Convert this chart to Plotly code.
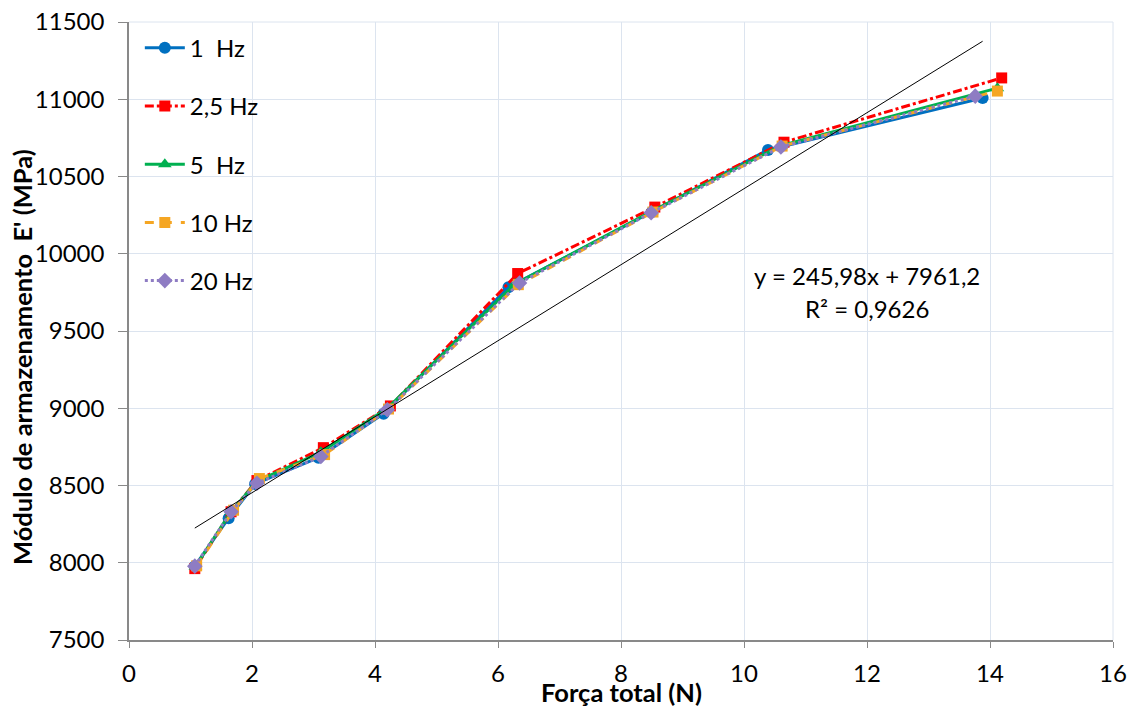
import numpy as np
import plotly.graph_objects as go

# Storage modulus E' (MPa) versus total force (N) at each test frequency
x_1hz = [1.07, 1.62, 2.05, 3.08, 4.14, 6.17, 8.50, 10.39, 13.88]
y_1hz = [7978, 8288, 8510, 8680, 8965, 9783, 10270, 10672, 11008]

x_2_5hz = [1.07, 1.66, 2.08, 3.16, 4.25, 6.32, 8.55, 10.65, 14.19]
y_2_5hz = [7962, 8330, 8532, 8745, 9015, 9872, 10302, 10722, 11138]

x_5hz = [1.08, 1.66, 2.08, 3.12, 4.20, 6.28, 8.50, 10.60, 14.12]
y_5hz = [7975, 8330, 8527, 8715, 9000, 9805, 10275, 10700, 11072]

x_10hz = [1.10, 1.70, 2.12, 3.18, 4.22, 6.33, 8.52, 10.62, 14.12]
y_10hz = [7980, 8340, 8545, 8700, 8995, 9800, 10270, 10697, 11053]

x_20hz = [1.07, 1.66, 2.08, 3.12, 4.20, 6.35, 8.49, 10.60, 13.76]
y_20hz = [7978, 8330, 8515, 8688, 8990, 9811, 10265, 10691, 11020]

# Linear trend line y = a*x + b, fitted over the 1 Hz force range
trend_slope = 245.98
trend_intercept = 7961.2
trend_r2 = 0.9626
trend_x = [1.07, 13.88]

x_ticks = [0, 2, 4, 6, 8, 10, 12, 14, 16]
y_ticks = [7500, 8000, 8500, 9000, 9500, 10000, 10500, 11000, 11500]

FONT = "Lato, Carlito, 'Liberation Sans', sans-serif"
FS = 24          # tick labels, legend, equation
FS_TITLE = 25.5  # axis titles
GRID = "#dce4ef"
AXIS = "#898989"

series = [
    ("1\u00a0 Hz", x_1hz, y_1hz, "#0070c0", "solid", "circle", 12),
    ("2,5 Hz", x_2_5hz, y_2_5hz, "#ff0000", "dashdot", "square", 11),
    ("5\u00a0 Hz", x_5hz, y_5hz, "#00b050", "solid", "triangle-up", 12),
    ("10 Hz", x_10hz, y_10hz, "#f5a623", "dash", "square", 11),
    ("20 Hz", x_20hz, y_20hz, "#8e7cc3", "dot", "diamond", 12),
]

fig = go.Figure()
for i, (name, xs, ys, color, dash, symbol, size) in enumerate(series):
    fig.add_trace(go.Scatter(
        x=xs, y=ys, name=name, mode="lines+markers",
        line=dict(color=color, width=3, dash=dash),
        marker=dict(color=color, symbol=symbol, size=size, line=dict(width=0)),
        legendgroup=f"g{i}",
    ))

tx = np.array(trend_x)
fig.add_trace(go.Scatter(
    x=tx, y=trend_slope * tx + trend_intercept, mode="lines",
    line=dict(color="black", width=1), showlegend=False, hoverinfo="skip",
))

# trend line equation and coefficient of determination
fig.add_annotation(
    x=12.0, y=9860, xref="x", yref="y", showarrow=False,
    text="y = 245,98x + 7961,2", font=dict(family=FONT, size=FS, color="black"),
)
fig.add_annotation(
    x=12.0, y=9645, xref="x", yref="y", showarrow=False,
    text=f"R² = {trend_r2:.4f}".replace(".", ","),
    font=dict(family=FONT, size=FS, color="black"),
)

# axis titles placed as free annotations
fig.add_annotation(
    x=-0.1087, y=0.458, xref="paper", yref="paper", showarrow=False,
    xanchor="center", yanchor="middle", textangle=-90,
    text="<b>Módulo de armazenamento  E' (MPa)</b>",
    font=dict(family=FONT, size=FS_TITLE, color="black"),
)
fig.add_annotation(
    x=0.5, y=-0.0835, xref="paper", yref="paper", showarrow=False,
    xanchor="center", yanchor="middle", borderpad=0,
    text="<b>Força total (N)</b>",
    font=dict(family=FONT, size=FS_TITLE, color="black"),
)

fig.update_layout(
    width=1134, height=708,
    margin=dict(l=129, r=21, t=22, b=68),
    paper_bgcolor="white", plot_bgcolor="white",
    font=dict(family=FONT, size=FS, color="black"),
    showlegend=True,
    legend=dict(
        x=0.011, y=0.994, xanchor="left", yanchor="top",
        bgcolor="rgba(0,0,0,0)", font=dict(family=FONT, size=FS),
        tracegroupgap=24, itemwidth=40,
    ),
    xaxis=dict(
        range=[0, 16], tickvals=x_ticks, ticktext=[str(v) for v in x_ticks],
        showgrid=True, gridcolor=GRID, gridwidth=1,
        showline=True, linecolor=AXIS, linewidth=1.5,
        ticks="outside", ticklen=6, tickcolor=AXIS,
        ticklabelstandoff=5, zeroline=False, automargin=False,
    ),
    yaxis=dict(
        range=[7500, 11500], tickvals=y_ticks, ticktext=[str(v) for v in y_ticks],
        showgrid=True, gridcolor=GRID, gridwidth=1,
        showline=True, linecolor=AXIS, linewidth=1.5,
        ticks="outside", ticklen=9, tickcolor=AXIS,
        ticklabelstandoff=9, zeroline=False, automargin=False,
    ),
)
# right/top edges of the plot area carry a grid line
fig.add_shape(type="line", xref="paper", yref="paper", x0=1, x1=1, y0=0, y1=1,
              line=dict(color=GRID, width=1), layer="below")
fig.add_shape(type="line", xref="paper", yref="paper", x0=0, x1=1, y0=1, y1=1,
              line=dict(color=GRID, width=1), layer="below")

fig.write_html("out.html")
